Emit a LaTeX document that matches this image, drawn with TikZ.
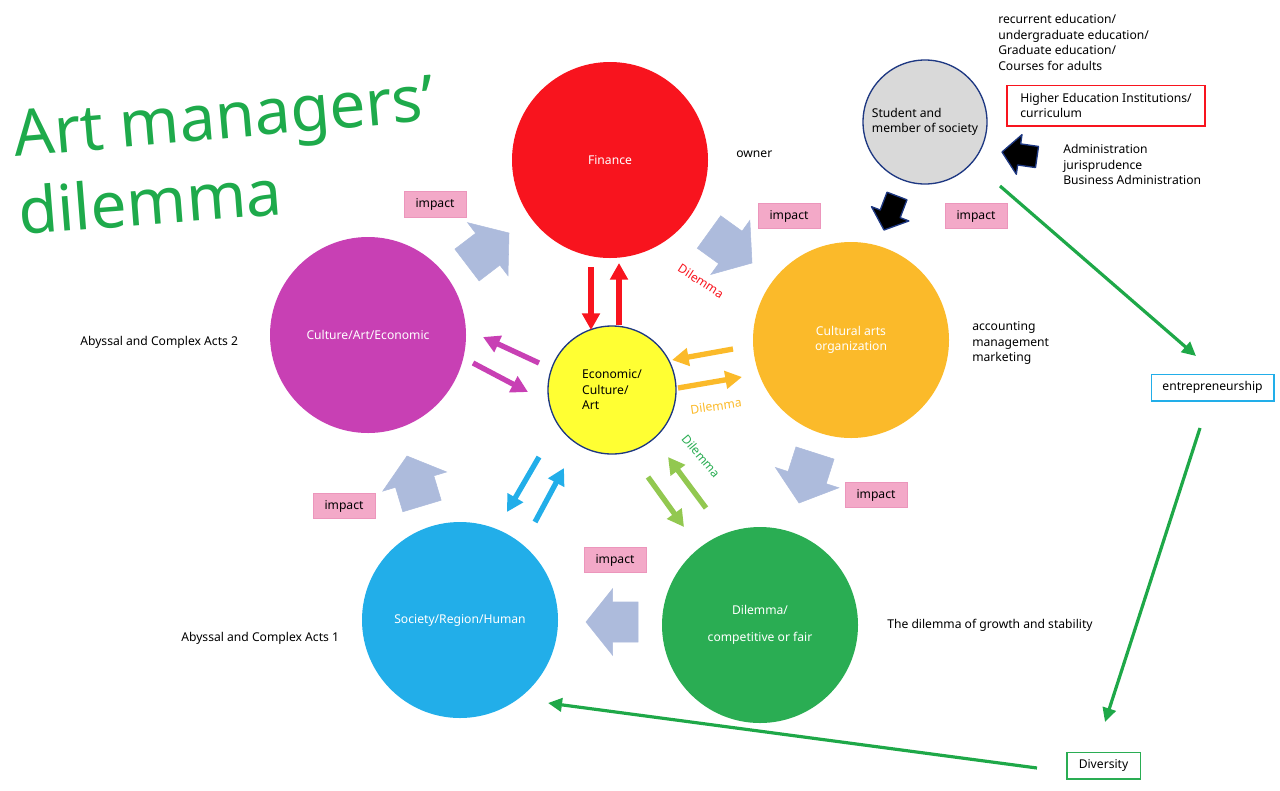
\documentclass[tikz,border=0pt]{standalone}
\usepackage{fontspec}
\setmainfont{Noto Sans}
\usetikzlibrary{arrows.meta,calc}
\definecolor{cred}{RGB}{248,20,30}
\definecolor{cmag}{RGB}{200,64,180}
\definecolor{corange}{RGB}{251,186,42}
\definecolor{cblue}{RGB}{34,174,233}
\definecolor{cgreen}{RGB}{42,173,83}
\definecolor{cyellow}{RGB}{255,255,51}
\definecolor{cgray}{RGB}{217,217,217}
\definecolor{cnavy}{RGB}{30,56,130}
\definecolor{csteel}{RGB}{173,187,220}
\definecolor{cpink}{RGB}{243,169,200}
\definecolor{cpinkd}{RGB}{236,150,188}
\definecolor{clgreen}{RGB}{146,200,80}
\definecolor{ctitle}{RGB}{30,170,75}
\definecolor{cline}{RGB}{30,168,72}
\newcommand\blockarr[6]{%
  \coordinate (ba-b) at ($(#3)!#6!(#2)$);
  \filldraw[#1] ($(#2)!#4!90:(#3)$) -- ($(ba-b)!#4!90:(#3)$) -- ($(ba-b)!#5!90:(#3)$) -- (#3)
    -- ($(ba-b)!#5!-90:(#3)$) -- ($(ba-b)!#4!-90:(#3)$) -- ($(#2)!#4!-90:(#3)$) -- cycle;}
\begin{document}
\begin{tikzpicture}[x=0.75pt,y=-0.75pt,
  every node/.style={font=\fontsize{9.1}{11.6}\selectfont, inner sep=0pt},
  bigc/.style={circle, minimum size=147pt, text=white, align=center},
  impactbox/.style={fill=cpink, draw=cpinkd, line width=0.6pt, minimum width=46.5pt, minimum height=19pt},
  fat/.style={line width=4pt, -{Triangle[length=12.5pt,width=13pt]}},
  thinline/.style={line width=2.4pt, draw=cline, -{Triangle[length=10.5pt,width=10pt]}},
  steelarr/.style={fill=csteel, draw=csteel, line width=0.4pt},
  blackarr/.style={fill=black, draw=cnavy, line width=1pt, line join=round}]
\useasboundingbox (0,0) rectangle (1280,790);

% title
\node[anchor=base west, rotate=5, text=ctitle, font=\fontsize{48}{58}\selectfont] (t1) at (15,157) {Art managers’};
\node[anchor=base west, rotate=4.5, text=ctitle, font=\fontsize{48}{58}\selectfont] (t2) at (20,235) {dilemma};

% circles
\node[bigc, fill=cred] (fin) at (610,160) {Finance};
\node[bigc, fill=cmag] (cae) at (368,335) {Culture/Art/Economic};
\node[bigc, fill=corange] (cao) at (851,340) {Cultural arts\\organization};
\node[bigc, fill=cblue] (srh) at (460,620) {Society/Region/Human};
\node[bigc, fill=cgreen] (dil) at (760,625) {Dilemma/\\[9pt]competitive or fair};
\node[circle, minimum size=96pt, fill=cyellow, draw=cnavy, line width=1pt, align=left] (eca) at (612,390) {Economic/\\Culture/\\Art};
\node[circle, minimum size=93pt, fill=cgray, draw=cnavy, line width=1pt, align=left] (stu) at (925,122) {Student and\\member of society};

% plain texts
\node[anchor=west] (own) at (736,154) {owner};
\node[anchor=west] (ab2) at (80,342) {Abyssal and Complex Acts 2};
\node[anchor=west] (ab1) at (181,638) {Abyssal and Complex Acts 1};
\node[anchor=west, align=left] (amm) at (972,343) {accounting\\management\\marketing};
\node[anchor=west] (gro) at (887,625) {The dilemma of growth and stability};
\node[anchor=west, align=left] (rec) at (998,42.5) {recurrent education/\\undergraduate education/\\Graduate education/\\Courses for adults};
\node[draw=cred, line width=1pt, minimum width=148.5pt, minimum height=30.5pt, align=left] (hei) at (1106,105.5) {Higher Education Institutions/\\curriculum};
\node[anchor=west, align=left] (adm) at (1063,164.5) {Administration\\jurisprudence\\Business Administration};
\node[draw=cblue, line width=1pt, minimum width=92pt, minimum height=20pt] (ent) at (1212.5,387.5) {entrepreneurship};
\node[draw=cgreen, line width=1pt, minimum width=55pt, minimum height=20pt] (div) at (1103.5,765.5) {Diversity};

% impact boxes
\node[impactbox] (i1) at (435,204.5) {impact};
\node[impactbox] (i2) at (789,216) {impact};
\node[impactbox] (i3) at (976,216) {impact};
\node[impactbox] (i4) at (344,506) {impact};
\node[impactbox] (i5) at (615,560) {impact};
\node[impactbox] (i6) at (876,495) {impact};

% dilemma labels
\node[text=cred, rotate=-33] (d1) at (701,281) {Dilemma};
\node[text=corange, rotate=8] (d2) at (716,406) {Dilemma};
\node[text=cgreen, rotate=-50] (d3) at (701,456) {Dilemma};

% block arrows
\coordinate (a1s) at (467,265); \coordinate (a1e) at (509,233);
\coordinate (a2s) at (709,232); \coordinate (a2e) at (752,263);
\coordinate (a3s) at (815,453); \coordinate (a3e) at (799,503);
\coordinate (a4s) at (638,622); \coordinate (a4e) at (586,622);
\coordinate (a5s) at (422,506); \coordinate (a5e) at (407,456);
\blockarr{steelarr}{a1s}{a1e}{15pt}{25pt}{20pt}
\blockarr{steelarr}{a2s}{a2e}{15pt}{25pt}{20pt}
\blockarr{steelarr}{a3s}{a3e}{15pt}{25pt}{20pt}
\blockarr{steelarr}{a4s}{a4e}{15pt}{25pt}{20pt}
\blockarr{steelarr}{a5s}{a5e}{15pt}{25pt}{20pt}
\coordinate (b1s) at (897,196); \coordinate (b1e) at (884,230);
\coordinate (b2s) at (1037,157); \coordinate (b2e) at (1002,152);
\blockarr{blackarr}{b1s}{b1e}{8pt}{15pt}{13pt}
\blockarr{blackarr}{b2s}{b2e}{8pt}{15pt}{13pt}

% colored line arrows
\coordinate (r1s) at (591,267); \coordinate (r1e) at (591,330);
\coordinate (r2s) at (619,325); \coordinate (r2e) at (619,263);
\draw[fat, cred] (r1s) -- (r1e);
\draw[fat, cred] (r2s) -- (r2e);
\coordinate (o1s) at (733,349); \coordinate (o1e) at (672,360);
\coordinate (o2s) at (678,388); \coordinate (o2e) at (742,377);
\draw[fat, corange] (o1s) -- (o1e);
\draw[fat, corange] (o2s) -- (o2e);
\coordinate (g1s) at (648,477); \coordinate (g1e) at (684,527);
\coordinate (g2s) at (706,508); \coordinate (g2e) at (668,457);
\draw[fat, clgreen] (g1s) -- (g1e);
\draw[fat, clgreen] (g2s) -- (g2e);
\coordinate (u1s) at (539,457); \coordinate (u1e) at (507,512);
\coordinate (u2s) at (535,522); \coordinate (u2e) at (564,468);
\draw[fat, cblue] (u1s) -- (u1e);
\draw[fat, cblue] (u2s) -- (u2e);
\coordinate (m1s) at (539,363); \coordinate (m1e) at (483,337);
\coordinate (m2s) at (473,363); \coordinate (m2e) at (528,392);
\draw[fat, cmag] (m1s) -- (m1e);
\draw[fat, cmag] (m2s) -- (m2e);

% green connectors
\coordinate (l1s) at (1000,186); \coordinate (l1e) at (1196,356);
\coordinate (l2s) at (1200,428); \coordinate (l2e) at (1105,722);
\coordinate (l3s) at (1037,768); \coordinate (l3e) at (548,703);
\draw[thinline] (l1s) -- (l1e);
\draw[thinline] (l2s) -- (l2e);
\draw[thinline] (l3s) -- (l3e);
\end{tikzpicture}
\end{document}
